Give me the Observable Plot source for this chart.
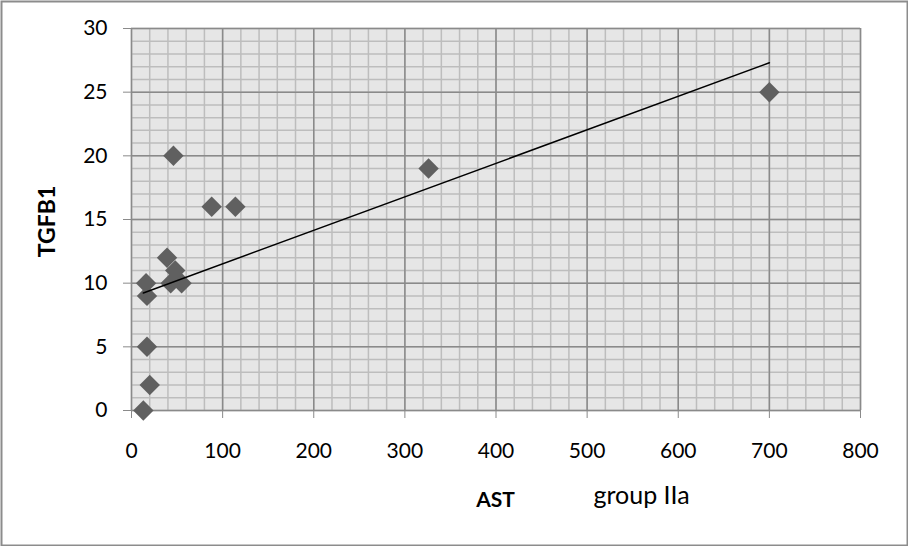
<!DOCTYPE html>
<html>
<head>
<meta charset="utf-8">
<script src="https://cdn.jsdelivr.net/npm/d3@7"></script>
<script src="https://cdn.jsdelivr.net/npm/@observablehq/plot@0.6"></script>
<style>
  html, body { margin: 0; padding: 0; background: #ffffff; }
  #chart svg { display: block; }
</style>
</head>
<body>
<div id="chart"></div>
<script>
// AST vs TGFB1, group IIa
const ast   = [13, 20, 17, 17, 16, 43, 55, 48, 39, 46, 88, 114, 326, 700];
const tgfb1 = [ 0,  2,  5,  9, 10, 10, 10, 11, 12, 20, 16,  16,  19,  25];

const xTicks = [0, 100, 200, 300, 400, 500, 600, 700, 800];
const yTicks = [0, 5, 10, 15, 20, 25, 30];

const points = ast.map((x, i) => ({x, y: tgfb1[i]}));

// grid: minor every 20 (x) / 1 (y), major at the tick values
const xMinor = d3.range(0, 801, 20);
const yMinor = d3.range(0, 31, 1);

const W = 908, H = 546;
const mL = 131, mR = 48, mT = 28, mB = 136;

const chart = Plot.plot({
  width: W,
  height: H,
  marginLeft: mL,
  marginRight: mR,
  marginTop: mT,
  marginBottom: mB,
  style: {fontFamily: "Lato, 'Open Sans', sans-serif", fontSize: "21px", color: "#000", background: "#fff"},
  x: {domain: [0, 800]},
  y: {domain: [0, 30]},
  marks: [
    // outer chart border
    Plot.frame({stroke: "#8c8c8c", strokeWidth: 2, insetLeft: 1 - mL, insetRight: 1 - mR, insetTop: 1 - mT, insetBottom: 1 - mB}),
    // plot area background
    Plot.frame({fill: "#e6e6e6"}),
    Plot.ruleX(xMinor, {stroke: "#bdbdbd", strokeWidth: 1.5}),
    Plot.ruleY(yMinor, {stroke: "#bdbdbd", strokeWidth: 1.5}),
    Plot.ruleX(xTicks, {stroke: "#8a8a8a", strokeWidth: 1.5}),
    Plot.ruleY(yTicks, {stroke: "#8a8a8a", strokeWidth: 1.5}),
    Plot.axisY({ticks: yTicks, tickSize: 8, tickPadding: 16, stroke: "#8a8a8a", fill: "#000", fontSize: 21, label: null}),
    Plot.axisX({ticks: xTicks, tickSize: 8, tickPadding: 25, stroke: "#8a8a8a", fill: "#000", fontSize: 21, label: null}),
    Plot.dot(points, {x: "x", y: "y", symbol: "diamond2", r: 9.2, fill: "#606060", stroke: "none"}),
    Plot.linearRegressionY(points, {x: "x", y: "y", ci: 0, stroke: "#000", strokeWidth: 1.5}),
    // axis titles
    Plot.text(["AST"], {frameAnchor: "bottom-left", dx: 364, dy: 96, textAnchor: "middle", lineAnchor: "bottom", fontWeight: "bold", fontSize: 21, fill: "#000"}),
    Plot.text(["group IIa"], {frameAnchor: "bottom-left", dx: 462, dy: 93, textAnchor: "start", lineAnchor: "bottom", fontSize: 25, fill: "#000"}),
    Plot.text(["TGFB1"], {frameAnchor: "left", dx: -84, dy: 2, rotate: -90, textAnchor: "middle", lineAnchor: "middle", fontWeight: "bold", fontSize: 23, fill: "#000"})
  ]
});

document.getElementById("chart").appendChild(chart);
</script>
</body>
</html>
